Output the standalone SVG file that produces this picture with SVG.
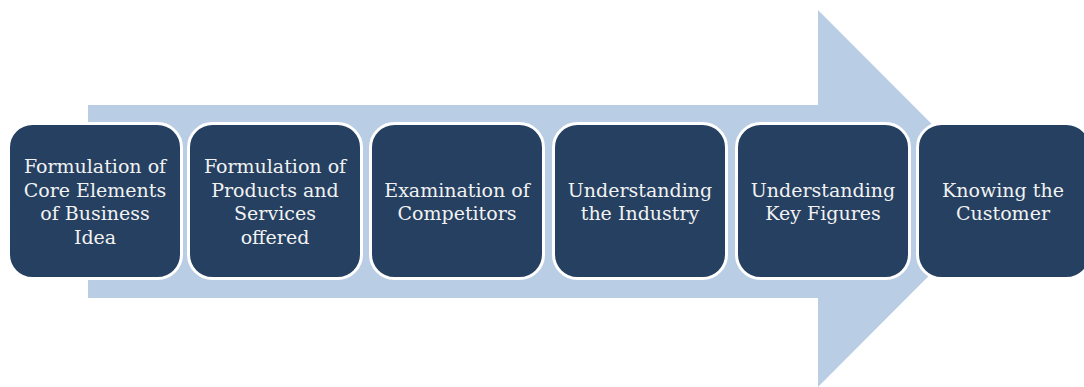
<svg xmlns="http://www.w3.org/2000/svg" width="1084" height="387" viewBox="0 0 1084 387">
<style>
.box{fill:#254061;stroke:#ffffff;stroke-width:3}
.lbl{font-family:"DejaVu Serif","Liberation Serif",serif;font-size:19px;fill:#f2f2f2;text-anchor:middle}
</style>
<rect width="1084" height="387" fill="#ffffff"/>
<g id="connectors">
<polygon points="88,105 818,105 818,10 1006,198.5 818,387 818,298 88,298" fill="#b9cde5"/>
</g>
<g id="n1"><rect class="box" x="8.5" y="123.5" width="173" height="155" rx="24"/>
<text class="lbl" x="95" y="173">Formulation of</text><text class="lbl" x="95" y="196.5">Core Elements</text><text class="lbl" x="95" y="220">of Business</text><text class="lbl" x="95" y="243.5">Idea</text></g>
<g id="n2"><rect class="box" x="188.5" y="123.5" width="173" height="155" rx="24"/>
<text class="lbl" x="275" y="173">Formulation of</text><text class="lbl" x="275" y="196.5">Products and</text><text class="lbl" x="275" y="220">Services</text><text class="lbl" x="275" y="243.5">offered</text></g>
<g id="n3"><rect class="box" x="370.5" y="123.5" width="173" height="155" rx="24"/>
<text class="lbl" x="457" y="196.5">Examination of</text><text class="lbl" x="457" y="219.5">Competitors</text></g>
<g id="n4"><rect class="box" x="553.5" y="123.5" width="173" height="155" rx="24"/>
<text class="lbl" x="640" y="196.5">Understanding</text><text class="lbl" x="640" y="219.5">the Industry</text></g>
<g id="n5"><rect class="box" x="736.5" y="123.5" width="173" height="155" rx="24"/>
<text class="lbl" x="823" y="196.5">Understanding</text><text class="lbl" x="823" y="219.5">Key Figures</text></g>
<g id="n6"><rect class="box" x="917.5" y="123.5" width="173" height="155" rx="24"/>
<text class="lbl" x="1003" y="196.5">Knowing the</text><text class="lbl" x="1003" y="219.5">Customer</text></g>
</svg>
